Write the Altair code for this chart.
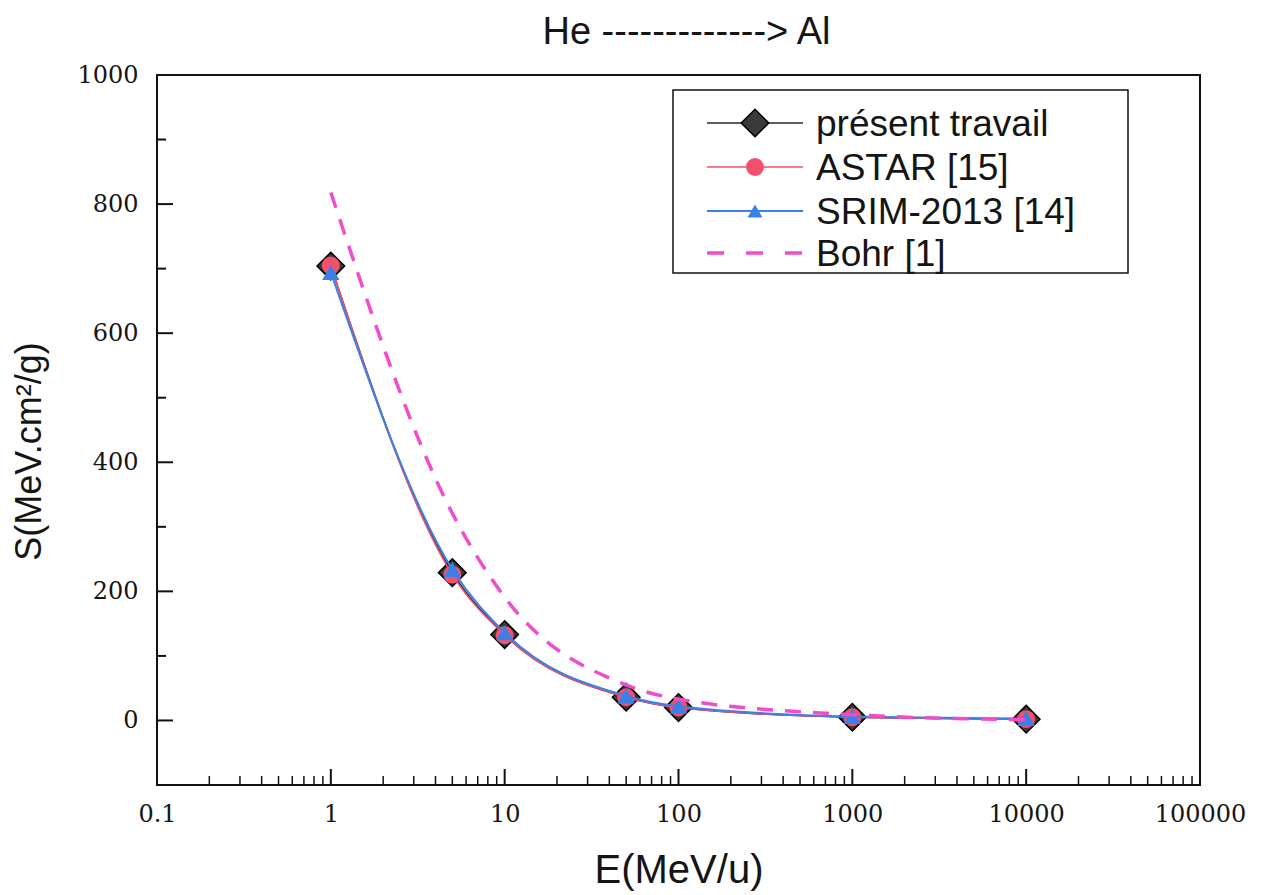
import altair as alt
import pandas as pd

# ---- data ----
E = [1, 5, 10, 50, 100, 1000, 10000]
present = [704, 229, 133, 36, 20, 5, 2]
astar = [705, 226, 132, 36, 20, 5, 2]
srim = [694, 234, 136, 38, 22, 6, 3]
bohr = [818, 321, 191, 55, 33, 9, 1]

series_names = ["présent travail", "ASTAR [15]", "SRIM-2013 [14]", "Bohr [1]"]

x_label_values = [0.1, 1, 10, 100, 1000, 10000, 100000]
y_label_values = [0, 200, 400, 600, 800, 1000]
y_minor_values = [100, 300, 500, 700, 900]
x_major_values = [1, 10, 100, 1000, 10000]
x_minor_values = [k * 10.0 ** d for d in range(-1, 5) for k in range(2, 10)]

# ---- styling ----
W, H = 1043, 710
C_PRES_LINE = "#1f2f22"
C_PRES_FILL = "#3a3a3a"
C_ASTAR = "#f2506c"
C_SRIM = "#3b80e8"
C_BOHR = "#f04ccc"
SANS = "Liberation Sans, Arial, sans-serif"
SERIF = "DejaVu Serif, serif"

xscale = alt.Scale(type="log", domain=[0.1, 100000], nice=False)
yscale = alt.Scale(domain=[-100, 1000], nice=False, zero=False)

xaxis = alt.Axis(
    values=x_label_values, format="~g", title="E(MeV/u)",
    ticks=False, domain=False, grid=False, labelFlush=False, labelOverlap=False,
    labelFont=SERIF, labelFontSize=24, labelColor="#151515",
    labelPadding=36, labelBaseline="alphabetic",
    titleFont=SANS, titleFontSize=40, titleFontWeight="normal", titleColor="#151515",
    titleY=97, titleBaseline="alphabetic",
)
yaxis = alt.Axis(
    values=y_label_values, format="d", title="S(MeV.cm²/g)",
    ticks=False, domain=False, grid=False,
    labelFont=SERIF, labelFontSize=24, labelColor="#151515", labelPadding=19,
    titleFont=SANS, titleFontSize=36, titleFontWeight="normal", titleColor="#151515",
    titleX=-117, titleY=376, titleBaseline="alphabetic",
)


def df(vals):
    return pd.DataFrame({"E": E, "S": vals})


def xenc(field="E"):
    return alt.X(f"{field}:Q", scale=xscale, axis=xaxis)


def yenc(field="S"):
    return alt.Y(f"{field}:Q", scale=yscale, axis=yaxis)


layers = []

# présent travail
layers.append(alt.Chart(df(present)).mark_line(color=C_PRES_LINE, strokeWidth=1.6, interpolate="monotone")
              .encode(x=xenc(), y=yenc()))
layers.append(alt.Chart(df(present)).mark_point(shape="diamond", filled=True, fill=C_PRES_FILL, stroke="#000",
                                                strokeWidth=1.5, size=760, opacity=1)
              .encode(x=xenc(), y=yenc()))
# ASTAR
layers.append(alt.Chart(df(astar)).mark_line(color=C_ASTAR, strokeWidth=1.6, interpolate="monotone")
              .encode(x=xenc(), y=yenc()))
layers.append(alt.Chart(df(astar)).mark_point(shape="circle", filled=True, fill=C_ASTAR, size=320, opacity=1)
              .encode(x=xenc(), y=yenc()))
# SRIM
layers.append(alt.Chart(df(srim)).mark_line(color=C_SRIM, strokeWidth=2, interpolate="monotone")
              .encode(x=xenc(), y=yenc()))
layers.append(alt.Chart(df(srim)).mark_point(shape="triangle-up", filled=True, fill=C_SRIM, size=300, opacity=1)
              .encode(x=xenc(), y=yenc()))
# Bohr
layers.append(alt.Chart(df(bohr)).mark_line(color=C_BOHR, strokeWidth=3.5, strokeDash=[16, 12],
                                            interpolate="monotone")
              .encode(x=xenc(), y=yenc()))

# ---- inward ticks ----
def vdf(vals):
    return pd.DataFrame({"E": vals, "S": vals})

layers.append(alt.Chart(vdf(y_label_values)).mark_rule(color="#111", strokeWidth=2)
              .encode(y=yenc(), x=alt.value(0), x2=alt.value(16)))
layers.append(alt.Chart(vdf(y_minor_values)).mark_rule(color="#111", strokeWidth=2)
              .encode(y=yenc(), x=alt.value(0), x2=alt.value(9)))
layers.append(alt.Chart(vdf(x_major_values)).mark_rule(color="#111", strokeWidth=2)
              .encode(x=xenc(), y=alt.value(H), y2=alt.value(H - 16)))
layers.append(alt.Chart(vdf(x_minor_values)).mark_rule(color="#111", strokeWidth=1.5)
              .encode(x=xenc(), y=alt.value(H), y2=alt.value(H - 9)))

# ---- legend (drawn manually) ----
one = pd.DataFrame({"k": [0]})
layers.append(alt.Chart(one).mark_rect(fill="white", stroke="#111", strokeWidth=1.5)
              .encode(x=alt.value(516), x2=alt.value(971), y=alt.value(15), y2=alt.value(198)))

row_y = [48, 92, 136, 178]
LX1, LX2, LM, LT = 550, 646, 598, 659
line_styles = [
    dict(color=C_PRES_LINE, strokeWidth=1.6),
    dict(color=C_ASTAR, strokeWidth=1.6),
    dict(color=C_SRIM, strokeWidth=2),
    dict(color=C_BOHR, strokeWidth=3.5, strokeDash=[17, 22]),
]
marker_styles = [
    dict(shape="diamond", filled=True, fill=C_PRES_FILL, stroke="#000", strokeWidth=1.5, size=760, opacity=1),
    dict(shape="circle", filled=True, fill=C_ASTAR, size=320, opacity=1),
    dict(shape="triangle-up", filled=True, fill=C_SRIM, size=220, opacity=1),
    None,
]
for name, ry, ls, ms in zip(series_names, row_y, line_styles, marker_styles):
    layers.append(alt.Chart(one).mark_rule(**ls)
                  .encode(x=alt.value(LX1), x2=alt.value(LX2), y=alt.value(ry)))
    if ms is not None:
        layers.append(alt.Chart(one).mark_point(**ms).encode(x=alt.value(LM), y=alt.value(ry)))
    layers.append(alt.Chart(one).mark_text(text=name, align="left", baseline="middle", font=SANS,
                                           fontSize=37, color="#151515")
                  .encode(x=alt.value(LT), y=alt.value(ry + 2)))

chart = alt.layer(*layers).properties(
    width=W, height=H,
    background="white",
    title=alt.TitleParams(text="He -------------> Al", font=SANS, fontSize=38, fontWeight="normal",
                          color="#151515", anchor="middle", dx=8, offset=11),
    padding={"left": 157, "top": 75, "right": 63, "bottom": 110},
    autosize=alt.AutoSizeParams(type="none"),
).configure_view(stroke="#111", strokeWidth=2)

chart.save("out.html", embed_options={"renderer": "svg", "actions": False})
